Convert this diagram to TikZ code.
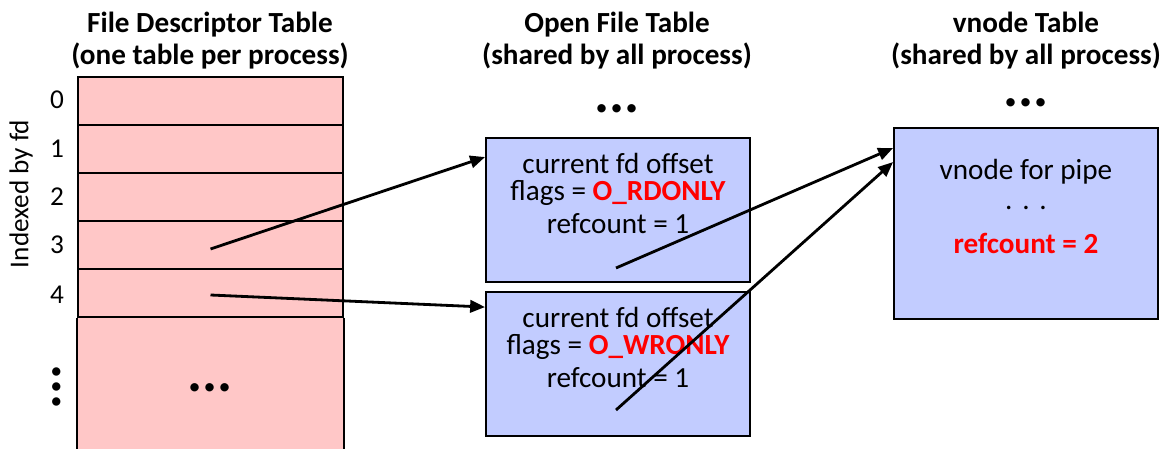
\documentclass[tikz,border=0pt]{standalone}
\usepackage{fontspec}
\setmainfont{Carlito}
\usetikzlibrary{arrows.meta,calc}
\definecolor{fdpink}{RGB}{255,199,199}
\definecolor{boxblue}{RGB}{194,204,255}
\definecolor{hired}{RGB}{255,0,0}
\tikzset{
  title/.style={font=\fontsize{16.6}{18.2}\selectfont\bfseries, align=center, inner sep=0pt},
  body/.style={font=\fontsize{16.6}{18}\selectfont, inner sep=0pt},
  idx/.style={font=\fontsize{15.5}{17}\selectfont, inner sep=0pt},
  bigdots/.style={font=\fontsize{32}{32}\selectfont\bfseries, inner sep=0pt, text height=5pt, text depth=0pt},
  fdrow/.style={draw=black, line width=1.1pt, fill=fdpink, minimum width=5.3cm, minimum height=0.96cm, inner sep=0pt},
  oftbox/.style={draw=black, line width=1.1pt, fill=boxblue, minimum width=5.28cm, minimum height=2.88cm, inner sep=0pt},
  vnbox/.style={draw=black, line width=1.1pt, fill=boxblue, minimum width=5.28cm, minimum height=3.82cm, inner sep=0pt},
  arr/.style={line width=1.6pt, -{Triangle[length=8.5pt,width=7pt]}},
}
\begin{document}
\begin{tikzpicture}[x=0.02cm, y=-0.02cm]
\useasboundingbox (0,0) rectangle (1166,449);
% titles
\node[title] (t1) at (210,41) {File Descriptor Table\\(one table per process)};
\node[title] (t2) at (617,41) {Open File Table\\(shared by all process)};
\node[title] (t3) at (1026,41) {vnode Table\\(shared by all process)};
% FD table
\fill[fdpink] (78,77) rectangle (343,449);
\node[fdrow] (row0) at (210.5,101) {};
\node[fdrow] (row1) at (210.5,149) {};
\node[fdrow] (row2) at (210.5,197) {};
\node[fdrow] (row3) at (210.5,245) {};
\node[fdrow] (row4) at (210.5,293) {};
\draw[line width=1.1pt] (row4.south west) -- (row4.south west |- 0,452);
\draw[line width=1.1pt] (row4.south east) -- (row4.south east |- 0,452);
\node[bigdots] (fddots) at (210,387) {...};
% indices
\node[idx] (i0) at (57,100) {0};
\node[idx] (i1) at (57,149) {1};
\node[idx] (i2) at (57,197) {2};
\node[idx] (i3) at (57,245) {3};
\node[idx] (i4) at (57,295) {4};
\node[bigdots, rotate=90] (vdots) at (56,387) {...};
\node[idx, rotate=90] (idxlabel) at (21,194) {Indexed by fd};
% open file table
\node[bigdots] (ofdots) at (617,108) {...};
\node[oftbox] (of1) at (618,210) {};
\node[oftbox] (of2) at (618,364) {};
\node[body] (of1a) at (618,163) {current fd offset};
\node[body] (of1b) at (618,193) {flags = \textcolor{hired}{\bfseries O\_RDONLY}};
\node[body] (of1c) at (618,224) {refcount = 1};
\node[body] (of2a) at (618,317) {current fd offset};
\node[body] (of2b) at (618,347) {flags = \textcolor{hired}{\bfseries O\_WRONLY}};
\node[body] (of2c) at (618,378) {refcount = 1};
% vnode table
\node[bigdots] (vndots) at (1026,102) {...};
\node[vnbox] (vn) at (1026,223.5) {};
\node[body] (vna) at (1026,172) {vnode for pipe};
\node[body] (vnb) at (1026,208) {.\,\,.\,\,.};
\node[body] (vnc) at (1026,243) {\textcolor{hired}{\bfseries refcount = 2}};
% arrows
\coordinate (s3) at ($(of1.center)+(-2,58)$);
\coordinate (s4) at ($(of2.center)+(-2,46)$);
\draw[arr] ($(row3.center)+(0,4)$) -- ($(of1.north west)+(0,20)$);
\draw[arr] ($(row4.center)+(0,2)$) -- ($(of2.north west)+(0,16)$);
\draw[arr] (s3) -- ($(vn.north west)+(0,21)$);
\draw[arr] (s4) -- ($(vn.north west)+(0,35)$);
\end{tikzpicture}
\end{document}
